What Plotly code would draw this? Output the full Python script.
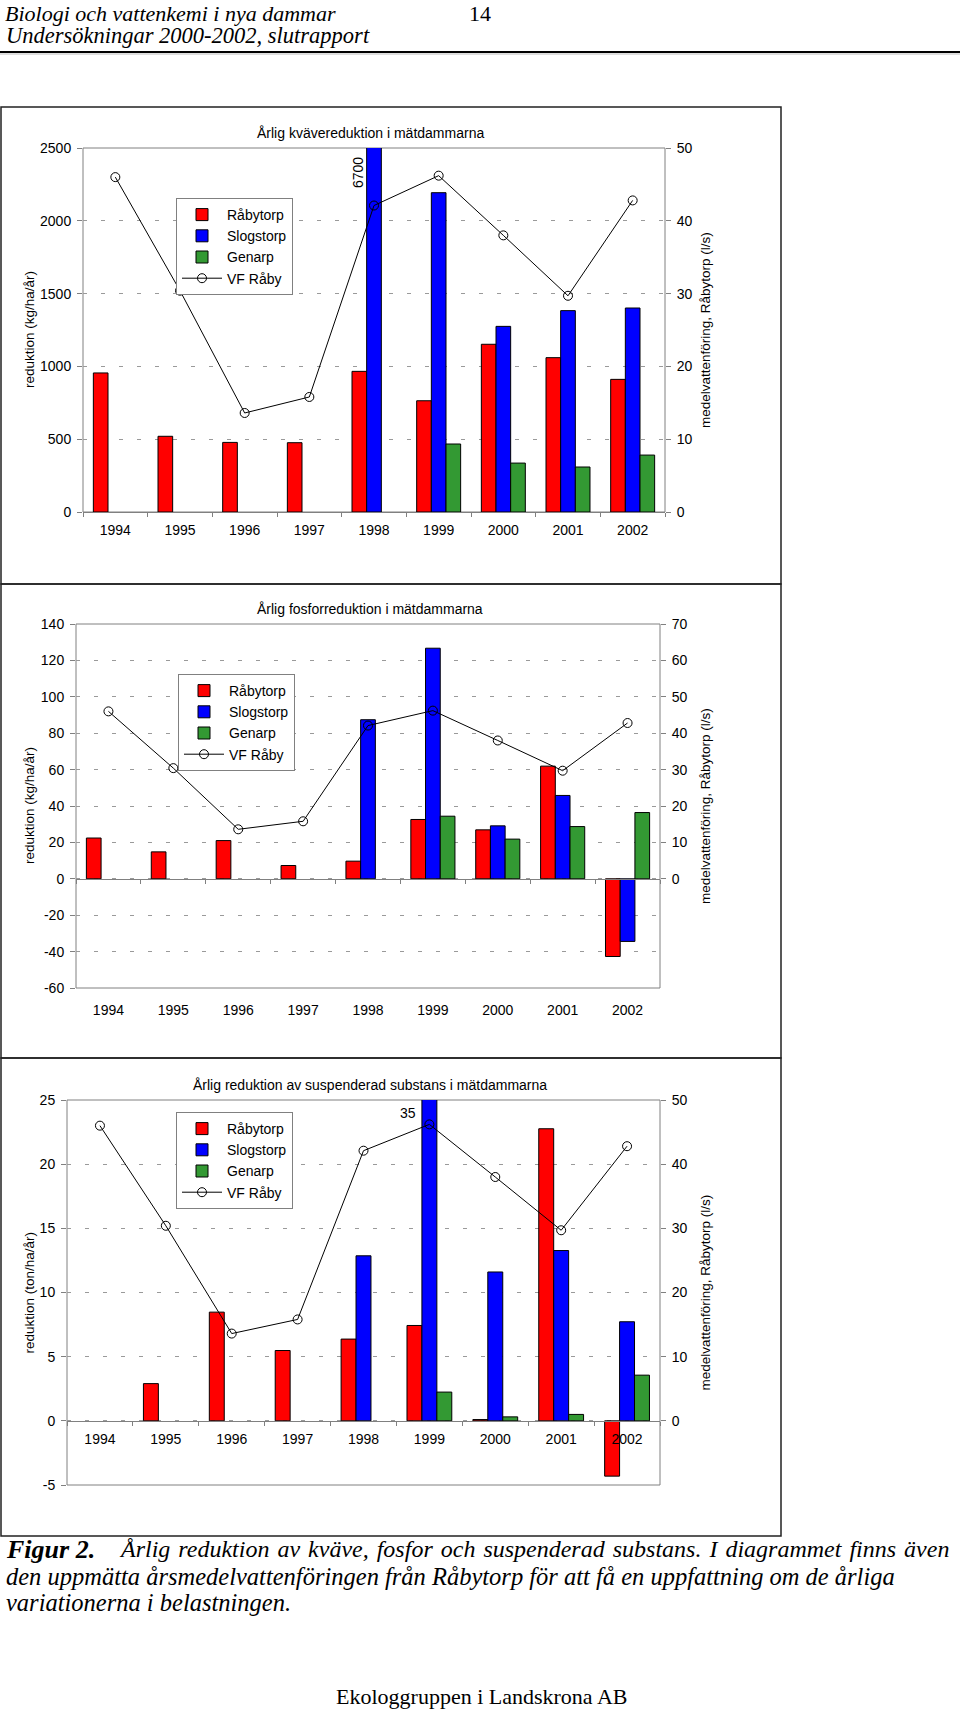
import plotly.graph_objects as go

# ---------------- data ----------------
years = ['1994', '1995', '1996', '1997', '1998', '1999', '2000', '2001', '2002']

# medelvattenföring Råbytorp (l/s) - same in all three diagrams
vf_raby = [46.0, 30.4, 13.6, 15.8, 42.1, 46.2, 38.0, 29.7, 42.8]

# Kväve (kg/ha/år)
n_rabytorp = [955, 520, 478, 476, 966, 764, 1152, 1060, 911]
n_slogstorp = [None, None, None, None, 6700, 2193, 1275, 1383, 1401]
n_genarp = [None, None, None, None, None, 467, 336, 309, 391]

# Fosfor (kg/ha/år)
p_rabytorp = [22.4, 14.8, 21.0, 7.3, 9.7, 32.6, 26.9, 61.9, -42.7]
p_slogstorp = [None, None, None, None, 87.4, 126.7, 29.1, 45.8, -34.4]
p_genarp = [None, None, None, None, None, 34.4, 21.8, 28.7, 36.4]

# Suspenderad substans (ton/ha/år)
ss_rabytorp = [None, 2.9, 8.47, 5.48, 6.37, 7.43, 0.1, 22.76, -4.31]
ss_slogstorp = [None, None, None, None, 12.86, 35, 11.6, 13.27, 7.72]
ss_genarp = [None, None, None, None, None, 2.24, 0.31, 0.5, 3.56]

series_names = ['Råbytorp', 'Slogstorp', 'Genarp']
line_name = 'VF Råby'
titles = ['Årlig kvävereduktion i mätdammarna',
          'Årlig fosforreduktion i mätdammarna',
          'Årlig reduktion av suspenderad substans i mätdammarna']
left_titles = ['reduktion (kg/ha/år)', 'reduktion (kg/ha/år)', 'reduktion (ton/ha/år)']
right_title = 'medelvattenföring, Råbytorp (l/s)'

# left axis ticks
left_ticks = [list(range(0, 2501, 500)), list(range(-60, 141, 20)), list(range(-5, 26, 5))]
right_ticks = [list(range(0, 51, 10)), list(range(0, 71, 10)), list(range(0, 51, 10))]

# ---------------- layout helpers ----------------
W, H = 960, 1711
def px(x):
    return x / W
def py(y):
    return 1 - y / H

colors = ['#FF0000', '#0000FF', '#339933']
SANS = 'Liberation Sans, Arial, sans-serif'
SERIF = 'Liberation Serif, Times New Roman, serif'
GRID = '#9a9a9a'
AX = '#808080'
FS = 14

# plot-area pixel boxes (left, right, top, bottom)
boxes = [(83, 665, 148, 512), (76, 660, 624, 988), (67, 660, 1100, 1485)]
left_ranges = [[0, 2500], [-60, 140], [-5, 25]]
right_ranges = [[0, 50], [-30, 70], [-10, 50]]
outer = [(107, 584), (584, 1058), (1058, 1536)]
legend_pos = [(176, 198), (178, 674), (176, 1112)]

data_sets = [
    (n_rabytorp, n_slogstorp, n_genarp),
    (p_rabytorp, p_slogstorp, p_genarp),
    (ss_rabytorp, ss_slogstorp, ss_genarp),
]

fig = go.Figure()
layout = dict(
    width=W, height=H, margin=dict(l=0, r=0, t=0, b=0, autoexpand=False),
    paper_bgcolor='white', plot_bgcolor='white',
    barmode='group', bargap=0.32, bargroupgap=0,
    showlegend=True,
    font=dict(family=SANS, size=FS, color='black'),
)
annotations = []
shapes = []

tickfont = dict(family=SANS, size=FS, color='black')

for i in range(3):
    n = i + 1
    xa = 'x' if n == 1 else f'x{n}'
    ya = 'y' if n == 1 else f'y{n}'
    yr = f'y{n + 3}'
    legend_id = 'legend' if n == 1 else f'legend{n}'
    l, r, t, b = boxes[i]
    lo, hi = left_ranges[i]
    dom_x = [px(l), px(r)]
    dom_y = [py(b), py(t)]
    zero_paper = dom_y[0] + (0 - lo) / (hi - lo) * (dom_y[1] - dom_y[0])

    for s in range(3):
        fig.add_trace(go.Bar(
            x=years, y=data_sets[i][s], name=series_names[s],
            marker=dict(color=colors[s], line=dict(color='black', width=1)),
            xaxis=xa, yaxis=ya, legend=legend_id, hoverinfo='skip'))
    fig.add_trace(go.Scatter(
        x=years, y=vf_raby, name=line_name, mode='lines+markers',
        line=dict(color='black', width=1),
        marker=dict(symbol='circle-open', size=9, color='black', line=dict(width=1)),
        xaxis=xa, yaxis=yr, legend=legend_id, hoverinfo='skip'))

    xkey = 'xaxis' if n == 1 else f'xaxis{n}'
    ykey = 'yaxis' if n == 1 else f'yaxis{n}'
    ax_x = dict(
        domain=dom_x, type='category', categoryarray=years,
        categoryorder='array', range=[-0.5, 8.5],
        showgrid=False, zeroline=False, tickfont=tickfont,
        ticks='outside', tickson='boundaries', ticklen=4, tickcolor=AX,
        showline=True, linecolor=AX, linewidth=1,
        ticklabelstandoff=5, automargin=False,
    )
    if n == 1:
        ax_x['anchor'] = ya
    elif n == 2:
        # labels at bottom, axis line with ticks at zero (overlay axis)
        ax_x.update(anchor=ya, ticks='', showline=False, ticklabelstandoff=12)
    else:
        ax_x.update(anchor='free', position=zero_paper)
    layout[xkey] = ax_x

    layout[ykey] = dict(
        domain=dom_y, range=[lo, hi], anchor=xa,
        tickvals=left_ticks[i], ticktext=[str(v) for v in left_ticks[i]],
        showgrid=True, gridcolor=GRID, griddash='4px,14px', gridwidth=1,
        zeroline=False, ticks='outside', ticklen=5, tickcolor=AX,
        showline=False, tickfont=tickfont, ticklabelstandoff=3, automargin=False,
    )
    layout[f'yaxis{n + 3}'] = dict(
        overlaying=ya, side='right', anchor=xa, range=right_ranges[i],
        tickvals=right_ticks[i], showgrid=False, zeroline=False,
        ticks='outside', ticklen=5, tickcolor=AX, showline=False,
        tickfont=tickfont, ticklabelstandoff=3, automargin=False,
    )

    if n == 2:
        layout['xaxis4'] = dict(
            overlaying='x2', anchor='free', position=zero_paper,
            type='category', categoryarray=years, categoryorder='array',
            range=[-0.5, 8.5], showgrid=False, zeroline=False,
            showticklabels=False, ticks='outside', tickson='boundaries',
            ticklen=4, tickcolor=AX, showline=True, linecolor=AX, linewidth=1,
            automargin=False,
        )
        fig.add_trace(go.Scatter(x=years, y=[None] * 9, xaxis='x4', yaxis='y2',
                                 showlegend=False, hoverinfo='skip', mode='lines'))

    # plot-area border (paper coordinates of the domain)
    shapes.append(dict(type='rect', xref='paper', yref='paper',
                       x0=dom_x[0], x1=dom_x[1], y0=dom_y[0], y1=dom_y[1],
                       line=dict(color=AX, width=1), layer='below'))
    # outer chart frame
    o_t, o_b = outer[i]
    shapes.append(dict(type='rect', xref='paper', yref='paper',
                       x0=px(1), x1=px(781), y0=py(o_b), y1=py(o_t),
                       line=dict(color='#222222', width=1.5), layer='above'))

    # titles
    annotations.append(dict(text=titles[i], xref='paper', yref='paper',
                            x=px(370), y=py(t - 15), showarrow=False,
                            font=dict(family=SANS, size=FS, color='black'),
                            xanchor='center', yanchor='middle'))
    annotations.append(dict(text=left_titles[i], xref='paper', yref='paper',
                            x=px(29), y=(dom_y[0] + dom_y[1]) / 2, textangle=-90, showarrow=False,
                            font=dict(family=SANS, size=13.5, color='black'),
                            xanchor='center', yanchor='middle'))
    annotations.append(dict(text=right_title, xref='paper', yref='paper',
                            x=px(705), y=(dom_y[0] + dom_y[1]) / 2, textangle=-90, showarrow=False,
                            font=dict(family=SANS, size=13.5, color='black'),
                            xanchor='center', yanchor='middle'))

    lp = legend_pos[i]
    layout[legend_id] = dict(
        x=px(lp[0]), y=py(lp[1]), xanchor='left', yanchor='top',
        bgcolor='white', bordercolor=AX, borderwidth=1,
        font=dict(family=SANS, size=FS, color='black'),
        tracegroupgap=0, itemwidth=40,
    )

# clipped-value labels
annotations.append(dict(text=str(n_slogstorp[4]), xref='paper', yref='paper',
                        x=px(358), y=py(173), textangle=-90, showarrow=False,
                        xanchor='center', yanchor='middle',
                        font=dict(family=SANS, size=FS, color='black')))
annotations.append(dict(text=str(ss_slogstorp[5]), xref='paper', yref='paper',
                        x=px(408), y=py(1113), showarrow=False,
                        font=dict(family=SANS, size=FS, color='black')))

# page header (kept fully inside the page)
annotations.append(dict(text='<i>Biologi och vattenkemi i nya dammar</i>', xref='paper', yref='paper',
                        x=px(4), y=1, xanchor='left', yanchor='top', showarrow=False,
                        borderpad=0, font=dict(family=SERIF, size=22, color='black')))
annotations.append(dict(text='<i>Undersökningar 2000-2002, slutrapport</i>', xref='paper', yref='paper',
                        x=px(4), y=py(36), xanchor='left', yanchor='middle', showarrow=False,
                        font=dict(family=SERIF, size=22.5, color='black')))
annotations.append(dict(text='14', xref='paper', yref='paper',
                        x=px(480), y=1, xanchor='center', yanchor='top', showarrow=False,
                        borderpad=0, font=dict(family=SERIF, size=22, color='black')))
shapes.append(dict(type='line', xref='paper', yref='paper', x0=0, x1=1,
                   y0=py(52), y1=py(52), line=dict(color='black', width=2)))
shapes.append(dict(type='line', xref='paper', yref='paper', x0=0, x1=1,
                   y0=py(54), y1=py(54), line=dict(color='#bbbbbb', width=1)))

# caption
cap_font = dict(family=SERIF, size=24.5, color='black')
cap1 = 'Årlig reduktion av kväve, fosfor och suspenderad substans. I diagrammet finns även'
annotations.append(dict(text='<b><i>Figur 2.</i></b>', xref='paper', yref='paper',
                        x=px(4), y=py(1549), xanchor='left', yanchor='middle',
                        showarrow=False, font=dict(family=SERIF, size=26, color='black')))
annotations.append(dict(text='<i>' + cap1.replace(' ', ' \u200a') + '</i>',
                        xref='paper', yref='paper', x=px(117), y=py(1549),
                        xanchor='left', yanchor='middle', showarrow=False,
                        font=dict(family=SERIF, size=24, color='black')))
annotations.append(dict(text='<i>den uppmätta årsmedelvattenföringen från Råbytorp för att få en uppfattning om de årliga</i>',
                        xref='paper', yref='paper', x=px(4), y=py(1576),
                        xanchor='left', yanchor='middle', showarrow=False, font=cap_font))
annotations.append(dict(text='<i>variationerna i belastningen.</i>',
                        xref='paper', yref='paper', x=px(4), y=py(1602),
                        xanchor='left', yanchor='middle', showarrow=False, font=cap_font))

# footer (kept fully inside the page)
annotations.append(dict(text='Ekologgruppen i Landskrona AB', xref='paper', yref='paper',
                        x=px(481), y=py(1710), xanchor='center', yanchor='bottom', showarrow=False,
                        borderpad=0, font=dict(family=SERIF, size=22, color='black')))

layout['annotations'] = annotations
layout['shapes'] = shapes
fig.update_layout(**layout)
fig.write_html('out.html')
